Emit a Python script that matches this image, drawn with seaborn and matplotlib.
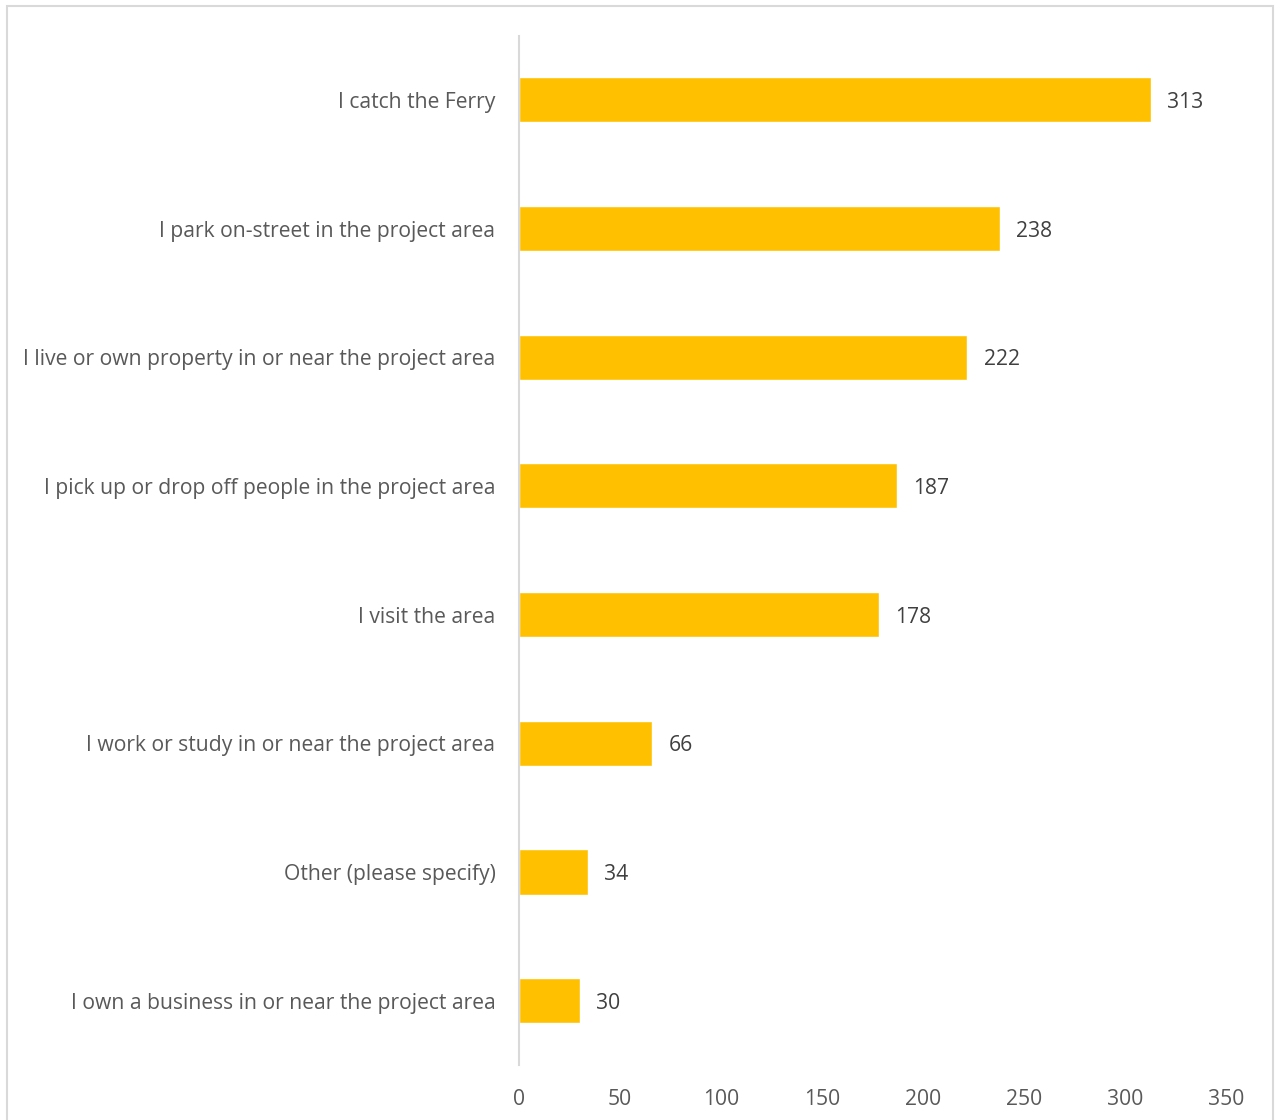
import matplotlib
matplotlib.use("Agg")
import matplotlib.pyplot as plt
from matplotlib.patches import Rectangle
import seaborn as sns
import pandas as pd

categories = [
    "I catch the Ferry",
    "I park on-street in the project area",
    "I live or own property in or near the project area",
    "I pick up or drop off people in the project area",
    "I visit the area",
    "I work or study in or near the project area",
    "Other (please specify)",
    "I own a business in or near the project area",
]
counts = [313, 238, 222, 187, 178, 66, 34, 30]
x_ticks = [0, 50, 100, 150, 200, 250, 300, 350]

sns.set_theme(style="white")
plt.rcParams["font.family"] = ["Open Sans", "DejaVu Sans"]

text_color = "#595959"
bar_color = "#FFC000"
fs = 15.2

df = pd.DataFrame({"reason": categories, "count": counts})

W, H = 1276, 1120
fig = plt.figure(figsize=(W / 100, H / 100), dpi=100)
ax = fig.add_axes([519 / W, 1 - 1065 / H, (1226 - 519) / W, (1065 - 35.6) / H])

sns.barplot(data=df, x="count", y="reason", order=categories,
            color=bar_color, saturation=1, width=0.35, ax=ax)

ax.set_xlim(0, 350)
ax.set_ylim(7.5, -0.5)
ax.set_xticks(x_ticks)
ax.set_xticklabels([str(t) for t in x_ticks])
ax.set_xlabel("")
ax.set_ylabel("")

for side in ["top", "right", "bottom"]:
    ax.spines[side].set_visible(False)
ax.spines["left"].set_color("#D9D9D9")
ax.spines["left"].set_linewidth(1.5)

ax.tick_params(axis="y", length=0, pad=17, labelsize=fs, labelcolor=text_color)
ax.tick_params(axis="x", length=0, pad=17, labelsize=fs, labelcolor=text_color)

for i, v in enumerate(counts):
    ax.text(v + 8, i, str(v), va="center_baseline", ha="left",
            fontsize=fs, color="#404040")

# Outer chart frame
fig.patches.append(Rectangle((7 / W, -0.05), (1273 - 7) / W, 1.05 - 6 / H,
                             transform=fig.transFigure, fill=False,
                             edgecolor="#D9D9D9", linewidth=1.5))

fig.savefig("out.png", dpi=100)
